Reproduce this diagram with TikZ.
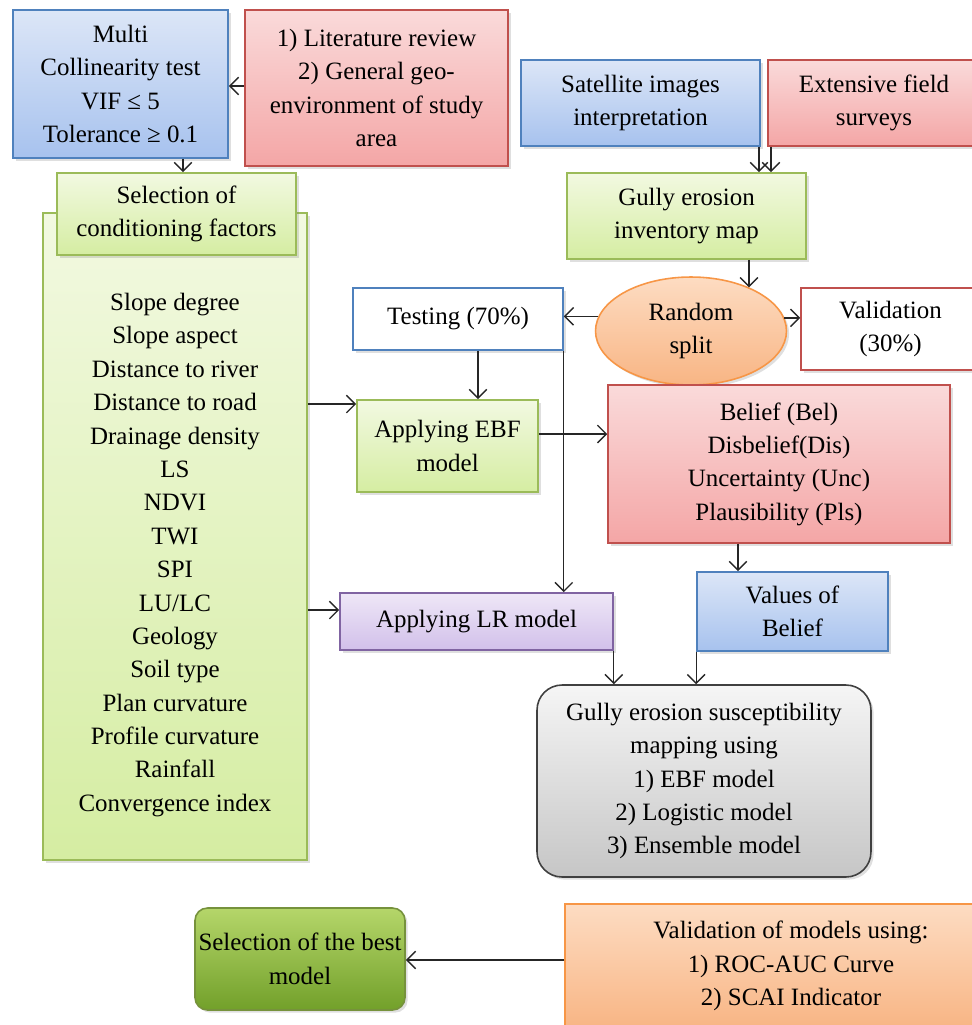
\documentclass[tikz,border=0pt]{standalone}
\usepackage{fontspec}
\setmainfont{Liberation Serif}
\usepackage{xcolor}
\definecolor{bluline}{HTML}{4F81BD}
\definecolor{blutop}{HTML}{DCE6F7}
\definecolor{blubot}{HTML}{A7C2EE}
\definecolor{redline}{HTML}{C0504D}
\definecolor{redtop}{HTML}{FADADA}
\definecolor{redbot}{HTML}{F4A6A6}
\definecolor{grnline}{HTML}{9BBB59}
\definecolor{grntop}{HTML}{F2F9E1}
\definecolor{grnbot}{HTML}{D5EDA2}
\definecolor{prpline}{HTML}{8064A2}
\definecolor{prptop}{HTML}{EEE7F7}
\definecolor{prpbot}{HTML}{D2C0EA}
\definecolor{orgline}{HTML}{F79646}
\definecolor{orgtop}{HTML}{FDDCC2}
\definecolor{orgbot}{HTML}{F8B584}
\definecolor{gryline}{HTML}{404040}
\definecolor{grytop}{HTML}{F5F5F5}
\definecolor{grybot}{HTML}{C6C6C6}
\definecolor{dgrline}{HTML}{76923C}
\definecolor{dgrtop}{HTML}{B5D66A}
\definecolor{dgrbot}{HTML}{72A02A}
\usetikzlibrary{arrows.meta}
\usetikzlibrary{shadows}
\usetikzlibrary{shapes.geometric}

\begin{document}
\begin{tikzpicture}
[x=0.02cm,y=-0.02cm,
font=\fontsize{14.2}{19}\selectfont,
>={Straight Barb[length=5pt,width=10pt]},
flow/.style={->,draw=black!85,line width=0.8pt},
boxx/.style={rectangle,line width=0.9pt,align=center,inner sep=2pt,
  drop shadow={opacity=0.25,shadow xshift=1.5pt,shadow yshift=-1.5pt}},
blbx/.style={boxx,draw=bluline,top color=blutop,bottom color=blubot},
rdbx/.style={boxx,draw=redline,top color=redtop,bottom color=redbot},
grbx/.style={boxx,draw=grnline,top color=grntop,bottom color=grnbot},
prbx/.style={boxx,draw=prpline,top color=prptop,bottom color=prpbot},
ogbx/.style={boxx,draw=orgline,top color=orgtop,bottom color=orgbot},
wbbx/.style={boxx,draw=bluline,fill=white},
wrbx/.style={boxx,draw=redline,fill=white},
gybx/.style={boxx,draw=gryline,top color=grytop,bottom color=grybot,rounded corners=0.5cm},
dgbx/.style={boxx,draw=dgrline,top color=dgrtop,bottom color=dgrbot,rounded corners=0.25cm},
orel/.style={ellipse,line width=0.9pt,align=center,inner sep=0pt,draw=orgline,
  top color=orgtop,bottom color=orgbot,
  drop shadow={opacity=0.25,shadow xshift=1.5pt,shadow yshift=-1.5pt}}]

\useasboundingbox (0,0) rectangle (972,1025);

% top row
\node at (120.5,84) [blbx,minimum width=4.3cm,minimum height=2.96cm] (multi)
  {Multi\\Collinearity test\\VIF ≤ 5\\Tolerance ≥ 0.1};
\node at (376.5,88) [rdbx,minimum width=5.26cm,minimum height=3.12cm] (lit)
  {1) Literature review\\2) General geo-\\environment of study\\area};
\node at (640.5,103) [blbx,minimum width=4.78cm,minimum height=1.72cm] (sat)
  {Satellite images\\interpretation};
\node at (874,103) [rdbx,minimum width=4.24cm,minimum height=1.72cm] (field)
  {Extensive field\\surveys};

% factors
\node at (175,536.5) [grbx,minimum width=5.28cm,minimum height=12.94cm] (factors) {};
\node at (175,555) [align=center] (factlist)
  {Slope degree\\Slope aspect\\Distance to river\\Distance to road\\Drainage density\\LS\\NDVI\\TWI\\SPI\\LU/LC\\Geology\\Soil type\\Plan curvature\\Profile curvature\\Rainfall\\Convergence index};
\node at (176.5,214) [grbx,minimum width=4.78cm,minimum height=1.64cm] (sel)
  {Selection of\\conditioning factors};

% inventory and split
\node at (686.5,216) [grbx,minimum width=4.78cm,minimum height=1.72cm] (inv)
  {Gully erosion\\inventory map};
\node at (691,331) [orel,minimum width=3.82cm,minimum height=2.16cm] (split)
  {Random\\split};
\node at (458,319) [wbbx,minimum width=4.2cm,minimum height=1.24cm] (test)
  {Testing (70\%)};
\node at (890.5,329) [wrbx,minimum width=3.58cm,minimum height=1.64cm] (valid)
  {Validation\\(30\%)};

% models
\node at (447.5,446) [grbx,minimum width=3.62cm,minimum height=1.84cm] (ebf)
  {Applying EBF\\model};
\node at (779,464) [rdbx,minimum width=6.84cm,minimum height=3.16cm] (belief)
  {Belief (Bel)\\Disbelief(Dis)\\Uncertainty (Unc)\\Plausibility (Pls)};
\node at (476.5,621.5) [prbx,minimum width=5.46cm,minimum height=1.14cm] (lr)
  {Applying LR model};
\node at (792.5,611.5) [blbx,minimum width=3.82cm,minimum height=1.58cm] (values)
  {Values of\\Belief};
\node at (704,781) [gybx,minimum width=6.68cm,minimum height=3.84cm] (gesm)
  {Gully erosion susceptibility\\mapping using\\1) EBF model\\2) Logistic model\\3) Ensemble model};

% bottom row
\node at (300,959) [dgbx,minimum width=3.8cm,minimum height=2.04cm] (best)
  {Selection of the best\\model};
\node at (791,966) [ogbx,minimum width=9.04cm,minimum height=2.48cm] (valmod)
  {Validation of models using:\\1) ROC-AUC Curve\\2) SCAI Indicator};

% connectors
\draw [flow] (lit.west |- 0,86) to (multi.east |- 0,86);
\draw [flow] (multi.south -| 183,0) to (sel.north -| 183,0);
\draw [flow] (sat.south -| 759,0) to (inv.north -| 759,0);
\draw [flow] (field.south -| 771,0) to (inv.north -| 771,0);
\draw [flow] (inv.south -| split.37) to (split.37);
\draw [flow] (split.171) to (split.171 -| test.east);
\draw [flow] (split.8) to (split.8 -| valid.west);
\draw [flow] (test.south -| 478,0) to (ebf.north -| 478,0);
\draw [flow] (test.south east) to (test.south east |- lr.north);
\draw [flow] (factors.east |- 0,404) to (ebf.west |- 0,404);
\draw [flow] (factors.east |- 0,610) to (lr.west |- 0,610);
\draw [flow] (ebf.east |- 0,434) to (belief.west |- 0,434);
\draw [flow] (belief.south -| 738,0) to (values.north -| 738,0);
\draw [flow] (lr.south east) to (lr.south east |- gesm.north);
\draw [flow] (values.south west) to (values.south west |- gesm.north);
\draw [flow] (valmod.west |- 0,960) to (best.east |- 0,960);
\end{tikzpicture}
\end{document}
